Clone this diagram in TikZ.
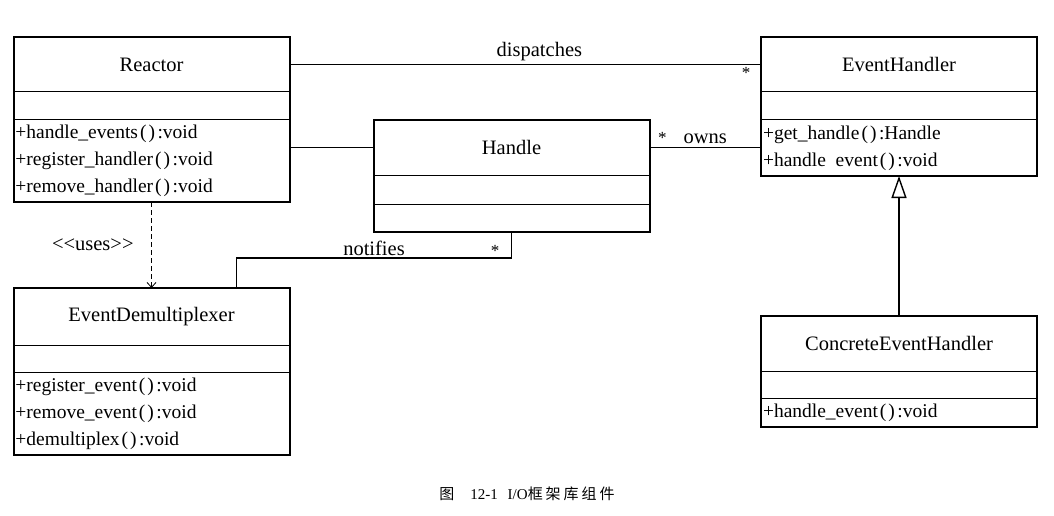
\documentclass[tikz,border=0pt]{standalone}
\usepackage{fontspec}
\setmainfont{Liberation Serif}
\newfontfamily\cjk[LetterSpace=20]{Noto Sans CJK SC}
\usetikzlibrary{positioning}
\usetikzlibrary{arrows.meta}
\usetikzlibrary{fit}
\newcommand{\parens}{\kern2pt(\kern2pt)\kern2.5pt}
\tikzset{
  classname/.style={rectangle,draw,line width=1pt,minimum width=276pt,
                    minimum height=55pt,inner sep=0pt,outer sep=0pt,
                    font=\fontsize{20.5}{24}\selectfont},
  attrbox/.style={rectangle,draw,line width=1pt,minimum width=276pt,
                  minimum height=28pt,inner sep=0pt,outer sep=0pt},
  methbox/.style={rectangle,draw,line width=1pt,text width=272pt,
                  inner xsep=2pt,inner ysep=0pt,outer sep=0pt,align=left,
                  font=\fontsize{19.5}{27}\selectfont},
  classframe/.style={rectangle,draw,line width=2pt,inner sep=0pt,outer sep=0pt},
  assoc/.style={line width=1.2pt},
  usesflow/.style={line width=1.2pt,dash pattern=on 5pt off 3pt,
                   -{Straight Barb[length=5pt,width=9pt,line width=0.8pt]}},
  generalize/.style={line width=1.4pt,-{Triangle[open,length=22pt,width=15pt,line width=1.4pt]}},
  linklabel/.style={font=\fontsize{20.5}{24}\selectfont},
  mult/.style={font=\fontsize{17}{19}\selectfont,inner sep=2pt},
  caption/.style={font=\fontsize{15}{18}\selectfont},
}
\begin{document}
\begin{tikzpicture}[x=1pt,y=-1pt]
    \useasboundingbox (0,0) rectangle (1054,516);

    % Reactor
    \node[classname] (rname) at (151.5,64.5) {Reactor};
    \node[attrbox] (rattr) [below=0pt of rname] {};
    \node[methbox,minimum height=82pt] (rmeth) [below=0pt of rattr]
        {+handle\_events\parens:void\\
         +register\_handler\parens:void\\
         +remove\_handler\parens:void};
    \node[classframe,fit=(rname)(rmeth)] (rframe) {};

    % EventHandler
    \node[classname] (ehname) at (899,64.5) {EventHandler};
    \node[attrbox] (ehattr) [below=0pt of ehname] {};
    \node[methbox,minimum height=56pt] (ehmeth) [below=0pt of ehattr]
        {+get\_handle\parens:Handle\\
         +handle\enspace event\parens:void};
    \node[classframe,fit=(ehname)(ehmeth)] (ehframe) {};

    % Handle
    \node[classname] (hname) at (511.5,147.5) {Handle};
    \node[attrbox,minimum height=29pt] (hattr) [below=0pt of hname] {};
    \node[methbox,minimum height=28pt] (hmeth) [below=0pt of hattr] {};
    \node[classframe,fit=(hname)(hmeth)] (hframe) {};

    % EventDemultiplexer
    \node[classname,minimum height=57pt] (edmname) at (151.5,316.5) {EventDemultiplexer};
    \node[attrbox,minimum height=27pt] (edmattr) [below=0pt of edmname] {};
    \node[methbox,minimum height=83pt] (edmmeth) [below=0pt of edmattr]
        {+register\_event\parens:void\\
         +remove\_event\parens:void\\
         +demultiplex\parens:void};
    \node[classframe,fit=(edmname)(edmmeth)] (edmframe) {};

    % ConcreteEventHandler
    \node[classname] (cname) at (899,343.5) {ConcreteEventHandler};
    \node[attrbox,minimum height=27pt] (cattr) [below=0pt of cname] {};
    \node[methbox,minimum height=29pt] (cmeth) [below=0pt of cattr]
        {+handle\_event\parens:void};
    \node[classframe,fit=(cname)(cmeth)] (cframe) {};

    % Associations
    \draw[assoc] (rname.east) --
        node[linklabel,pos=0.53,above] {dispatches}
        node[mult,pos=1,below left=0pt and 8pt] {*}
        (ehname.west);
    \draw[assoc] (hname.west) -- (hname.west -| rmeth.east);
    \draw[assoc] (hname.east) --
        node[mult,pos=0,above right=1pt and 6pt] {*}
        node[linklabel,pos=0.5,above] {owns}
        (hname.east -| ehmeth.west);
    \draw[assoc] ([xshift=85pt]edmname.north) -- ++(0,-30) -|
        node[linklabel,pos=0.25,above=-2pt] {notifies}
        node[mult,pos=0.47,above=-1pt] {*}
        (hmeth.south);

    % Dependency and inheritance
    \draw[usesflow] (rmeth.south) --
        node[linklabel,left=14pt] {\textless\kern0pt\textless uses\textgreater\kern0pt\textgreater}
        (edmname.north);
    \draw[generalize] (cname.north) -- (ehmeth.south);

    % Caption
    \node[caption] (cap) at (527,494)
        {{\cjk 图}\hspace{16pt}12-1\hspace{10pt}I/O{\cjk 框架库组件}};
\end{tikzpicture}
\end{document}
